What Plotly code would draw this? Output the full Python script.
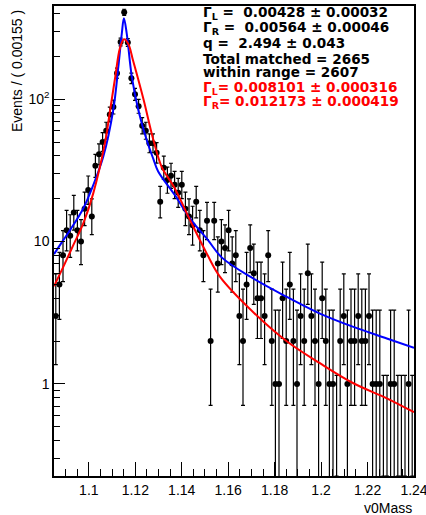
import math
import numpy as np
import plotly.graph_objects as go

# ---------------- data ----------------
x_min, x_max = 1.085, 1.24
n_bins = 100
counts = [3, 5, 8, 12, 11, 16, 12, 10, 17, 23, 15, 34, 41, 50, 60, 78, 88,
          152, 252, 407, 250, 140, 108, 89, 65, 60, 49, 49, 42,
          19, 33, 27, 29, 25, 22, 25, 17, 15, 13, 19, 12, 8, 14, 2, 14, 7, 10,
          9, 12, 7, 8, 3, 2, 5, 9, 6, 4, 4, 3, 8, 2, 1, 1,
          4, 2, 5, 2, 1, 3, 2, 6, 3, 2, 1, 4, 2, 1, 1, 0, 2, 3, 1,
          2, 2, 3, 2, 2, 3, 1, 1, 1, 0, 0, 1, 1, 0, 0, 0, 1, 0]

blue_x = [1.0850, 1.0890, 1.0919, 1.0976, 1.1019, 1.1062, 1.1105, 1.1127, 1.1142,
          1.1151, 1.1163, 1.1185, 1.1213, 1.1249, 1.1278, 1.1298, 1.1370, 1.1441,
          1.1513, 1.1573, 1.1708, 1.1852, 1.1995, 1.2139, 1.2283, 1.2400]
blue_y = [8.16, 10.23, 12.03, 17.08, 24.91, 39.38, 83.8, 168.9, 290.0,
          369.7, 290.0, 143.7, 83.8, 51.6, 37.9, 31.2, 21.2, 14.14,
          10.23, 7.71, 5.50, 4.09, 3.12, 2.515, 2.085, 1.79]

red_x = [1.0850, 1.0890, 1.0933, 1.0976, 1.1019, 1.1070, 1.1091, 1.1113, 1.1134,
         1.1151, 1.1170, 1.1191, 1.1235, 1.1278, 1.1314, 1.1367, 1.1440, 1.1509,
         1.1565, 1.1708, 1.1852, 1.1995, 1.2139, 1.2283, 1.2400]
red_y = [4.86, 6.64, 9.43, 13.40, 21.78, 49.9, 82.5, 140.7, 228.6,
         263.2, 243.9, 185.2, 100.2, 51.6, 33.3, 24.12, 13.69, 8.16,
         5.65, 3.19, 1.995, 1.398, 1.011, 0.793, 0.633]

y_log_range = [-0.6465, 2.654]

stats_black = ["Γ<sub>L</sub> =  0.00428 ± 0.00032",
               "Γ<sub>R</sub> =  0.00564 ± 0.00046",
               "q =  2.494 ± 0.043",
               "Total matched = 2665",
               "within range = 2607"]
stats_red = ["Γ<sub>L</sub>= 0.008101 ± 0.000316",
             "Γ<sub>R</sub>= 0.012173 ± 0.000419"]

x_ticks = [1.10, 1.12, 1.14, 1.16, 1.18, 1.20, 1.22, 1.24]
x_ticktext = ["1.1", "1.12", "1.14", "1.16", "1.18", "1.2", "1.22", "1.24"]
y_ticks = [1, 10, 100]
y_ticktext = ["1", "10", "10<sup>2</sup>"]
y_minor = [0.3, 0.4, 0.5, 0.6, 0.7, 0.8, 0.9, 2, 3, 4, 5, 6, 7, 8, 9,
           20, 30, 40, 50, 60, 70, 80, 90, 200, 300, 400]

# ---------------- Poisson (RooFit-style) intervals ----------------
TAIL = 0.5 * (1 - math.erf(1 / math.sqrt(2)))


def pois_cdf(n, mu):
    term = math.exp(-mu)
    s = term
    for k in range(1, n + 1):
        term *= mu / k
        s += term
    return s


def solve(n, target):
    lo, hi = 0.0, n + 10 * math.sqrt(n + 1) + 10
    for _ in range(200):
        mid = 0.5 * (lo + hi)
        if pois_cdf(n, mid) > target:
            lo = mid
        else:
            hi = mid
    return 0.5 * (lo + hi)


def pois_interval(n):
    if n == 0:
        return 0.0, -math.log(2 * TAIL)
    if n > 100:
        return n - math.sqrt(n + 0.25) + 0.5, n + math.sqrt(n + 0.25) + 0.5
    return solve(n - 1, 1 - TAIL), solve(n, TAIL)


bw = (x_max - x_min) / n_bins
centers = [x_min + (i + 0.5) * bw for i in range(n_bins)]

px_, py_, ep, em = [], [], [], []
zx, zy, zep = [], [], []
y_floor = 10 ** y_log_range[0]
for c, n in zip(centers, counts):
    lo, hi = pois_interval(n)
    if n > 0:
        px_.append(c); py_.append(n); ep.append(hi - n); em.append(n - lo)
    else:
        zx.append(c); zy.append(y_floor); zep.append(hi - y_floor)

fig = go.Figure()
fig.add_trace(go.Scatter(
    x=zx, y=zy, mode="markers", marker=dict(size=1, color="rgba(0,0,0,0)"),
    error_y=dict(type="data", symmetric=False, array=zep, arrayminus=[0] * len(zx),
                 color="black", thickness=1.2, width=2),
    showlegend=False, hoverinfo="skip"))
fig.add_trace(go.Scatter(
    x=px_, y=py_, mode="markers", marker=dict(size=6, color="black"),
    error_y=dict(type="data", symmetric=False, array=ep, arrayminus=em,
                 color="black", thickness=1.2, width=2),
    showlegend=False))
fig.add_trace(go.Scatter(x=blue_x, y=blue_y, mode="lines",
                         line=dict(color="#0000ff", width=2, shape="spline"),
                         showlegend=False))
fig.add_trace(go.Scatter(x=red_x, y=red_y, mode="lines",
                         line=dict(color="#ff0000", width=2, shape="spline"),
                         showlegend=False))

FONT = "Liberation Sans, Arial, Helvetica, sans-serif"
SFONT = "DejaVu Sans, Liberation Sans, sans-serif"
L, R, T, B = 54, 12, 6, 39
W, H = 426, 515
pw, ph = W - L - R, H - T - B


def pxp(x):
    return (x - L) / pw


def pyp(y):
    return (H - B - y) / ph


ann = []
ys_black = [12.5, 28.3, 43.3, 59.2, 72.0]
ys_red = [88.0, 102.3]
for txt, yy in zip(stats_black, ys_black):
    ann.append(dict(x=pxp(201), y=pyp(yy), xref="paper", yref="paper",
                    xanchor="left", yanchor="middle", showarrow=False,
                    text="<b>" + txt + "</b>",
                    font=dict(family=SFONT, size=13.6, color="black")))
for txt, yy in zip(stats_red, ys_red):
    ann.append(dict(x=pxp(201), y=pyp(yy), xref="paper", yref="paper",
                    xanchor="left", yanchor="middle", showarrow=False,
                    text="<b>" + txt + "</b>",
                    font=dict(family=SFONT, size=13.6, color="#ff0000")))
ann.append(dict(x=pxp(17), y=pyp(8), xref="paper", yref="paper",
                xanchor="center", yanchor="top", showarrow=False, textangle=-90,
                text="Events / ( 0.00155 )",
                font=dict(family=FONT, size=14, color="black")))
ann.append(dict(x=1.0, y=pyp(508), xref="paper", yref="paper",
                xanchor="right", yanchor="middle", showarrow=False,
                text="v0Mass", font=dict(family=FONT, size=14, color="black")))

fig.update_layout(
    width=W, height=H, autosize=False,
    margin=dict(l=L, r=R, t=T, b=B, pad=0, autoexpand=False),
    paper_bgcolor="white", plot_bgcolor="white",
    font=dict(family=FONT, size=14, color="black"),
    annotations=ann,
    xaxis=dict(range=[x_min, x_max + 1e-7], tickmode="array", tickvals=x_ticks,
               ticktext=x_ticktext, ticks="inside", ticklen=14, tickwidth=1.3,
               tickcolor="black", showline=True, linecolor="black", linewidth=1.5,
               mirror=True, showgrid=False, zeroline=False, automargin=False,
               ticklabeloverflow="allow",
               tickfont=dict(family=FONT, size=14, color="black"),
               minor=dict(ticks="inside", ticklen=7, tickwidth=1.3, tickcolor="black",
                          dtick=0.005, tick0=1.085, showgrid=False)),
    yaxis=dict(type="log", range=y_log_range, tickmode="array", tickvals=y_ticks,
               ticktext=y_ticktext, ticks="inside", ticklen=11, tickwidth=1.3,
               tickcolor="black", showline=True, linecolor="black", linewidth=1.5,
               mirror=True, showgrid=False, zeroline=False, automargin=False,
               tickfont=dict(family=FONT, size=14, color="black"),
               minor=dict(ticks="inside", ticklen=6, tickwidth=1.3, tickcolor="black",
                          tickmode="array", tickvals=y_minor, showgrid=False)),
)

fig.write_html("out.html", config={"displayModeBar": False},
               post_script="document.body.style.margin='0';")
